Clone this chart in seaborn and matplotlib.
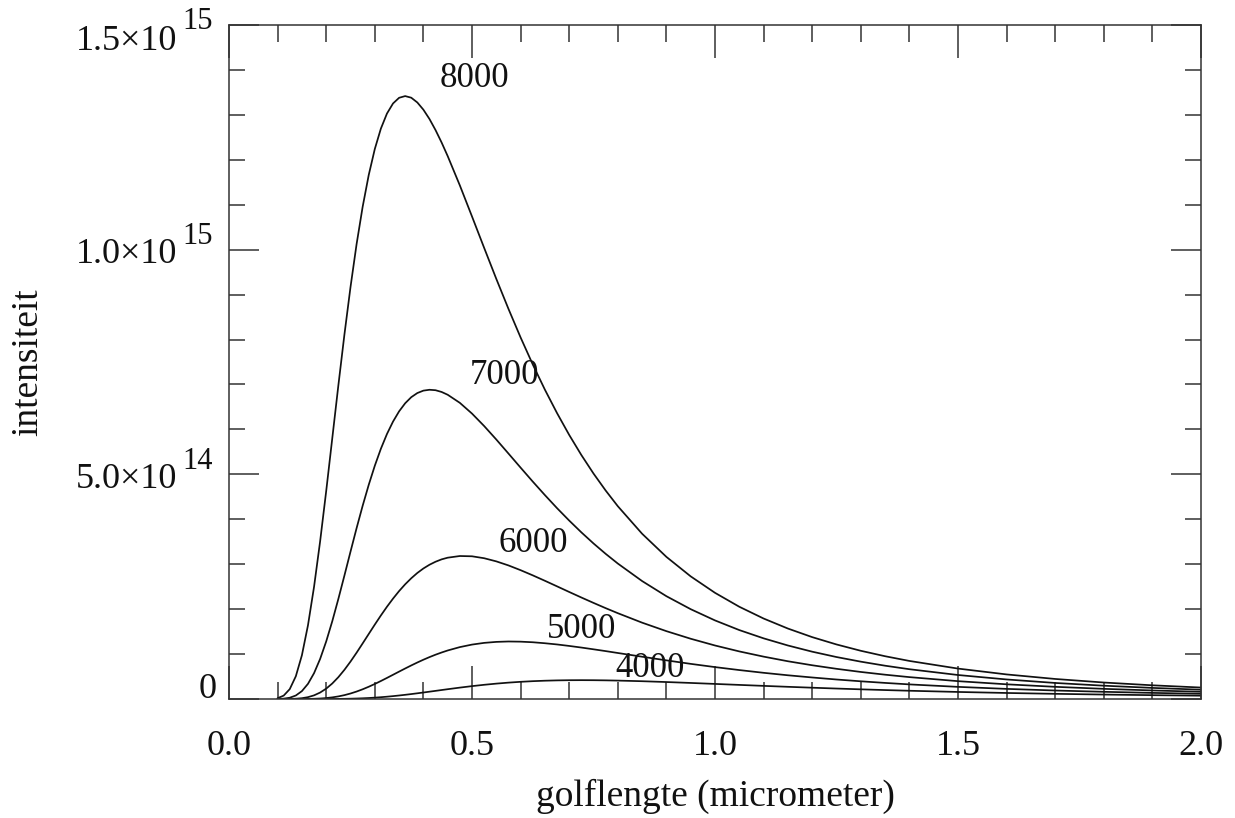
import numpy as np
import pandas as pd
import matplotlib
matplotlib.use("Agg")
import matplotlib.pyplot as plt
import seaborn as sns
from matplotlib.ticker import FixedLocator, MultipleLocator

# Wavelength samples (micrometer)
wavelength = [0.10, 0.1125, 0.125, 0.1375, 0.15, 0.1625, 0.175, 0.1875, 0.20, 0.2125,
              0.225, 0.2375, 0.25, 0.2625, 0.275, 0.2875, 0.30, 0.3125, 0.325, 0.3375,
              0.35, 0.3625, 0.375, 0.3875, 0.40, 0.4125, 0.425, 0.4375, 0.45, 0.475,
              0.50, 0.525, 0.55, 0.575, 0.60, 0.625, 0.65, 0.675, 0.70, 0.725,
              0.75, 0.775, 0.80, 0.85, 0.90, 0.95, 1.00, 1.05, 1.10, 1.15,
              1.20, 1.25, 1.30, 1.35, 1.40, 1.50, 1.60, 1.70, 1.80, 1.90, 2.00]

# Intensity per temperature, in units of 1e14
intensity_8000 = [0.018, 0.0754, 0.220, 0.506, 0.973, 1.641, 2.497, 3.509, 4.628, 5.802,
                  6.978, 8.111, 9.167, 10.121, 10.954, 11.661, 12.240, 12.694, 13.029, 13.254,
                  13.380, 13.418, 13.382, 13.276, 13.115, 12.908, 12.661, 12.384, 12.082, 11.430,
                  10.739, 10.040, 9.350, 8.683, 8.046, 7.446, 6.884, 6.362, 5.877, 5.430,
                  5.018, 4.640, 4.291, 3.678, 3.163, 2.729, 2.363, 2.053, 1.791, 1.568,
                  1.377, 1.214, 1.073, 0.952, 0.847, 0.677, 0.547, 0.446, 0.367, 0.305, 0.255]
intensity_7000 = [0.0014, 0.0077, 0.0282, 0.0780, 0.1755, 0.3375, 0.575, 0.892, 1.281, 1.731,
                  2.227, 2.748, 3.279, 3.801, 4.300, 4.766, 5.191, 5.569, 5.897, 6.174,
                  6.402, 6.582, 6.717, 6.809, 6.863, 6.882, 6.872, 6.833, 6.771, 6.591,
                  6.352, 6.075, 5.775, 5.463, 5.149, 4.839, 4.538, 4.247, 3.971, 3.709,
                  3.462, 3.231, 3.015, 2.625, 2.288, 1.999, 1.749, 1.534, 1.350, 1.191,
                  1.053, 0.934, 0.831, 0.741, 0.663, 0.534, 0.435, 0.357, 0.296, 0.247, 0.207]
intensity_6000 = [0.0, 0.0004, 0.0018, 0.0065, 0.0179, 0.0410, 0.0812, 0.1435, 0.2310, 0.3453,
                  0.4856, 0.6496, 0.8327, 1.030, 1.237, 1.447, 1.656, 1.859, 2.053, 2.234,
                  2.402, 2.553, 2.687, 2.805, 2.905, 2.988, 3.055, 3.108, 3.145, 3.182,
                  3.176, 3.133, 3.063, 2.973, 2.867, 2.752, 2.631, 2.507, 2.382, 2.259,
                  2.139, 2.022, 1.910, 1.699, 1.510, 1.341, 1.191, 1.059, 0.943, 0.840,
                  0.751, 0.672, 0.602, 0.541, 0.487, 0.397, 0.327, 0.271, 0.226, 0.190, 0.161]
intensity_5000 = [0.0, 0.0, 0.0, 0.0002, 0.0007, 0.0021, 0.0052, 0.0111, 0.0210, 0.0362,
                  0.0577, 0.0862, 0.1223, 0.1658, 0.2162, 0.2728, 0.3346, 0.4005, 0.4691, 0.5392,
                  0.6096, 0.6792, 0.7471, 0.8123, 0.8743, 0.9323, 0.9862, 1.035, 1.080, 1.155,
                  1.211, 1.249, 1.271, 1.280, 1.276, 1.263, 1.241, 1.214, 1.181, 1.145,
                  1.106, 1.066, 1.024, 0.941, 0.860, 0.782, 0.710, 0.644, 0.583, 0.528,
                  0.479, 0.434, 0.394, 0.358, 0.325, 0.270, 0.225, 0.189, 0.160, 0.136, 0.116]
intensity_4000 = [0.0, 0.0, 0.0, 0.0, 0.0, 0.0, 0.0001, 0.0002, 0.0006, 0.0012,
                  0.0024, 0.0042, 0.0069, 0.0107, 0.0158, 0.0223, 0.0304, 0.0401, 0.0513, 0.0640,
                  0.0781, 0.0933, 0.1097, 0.1268, 0.1446, 0.1629, 0.1813, 0.1998, 0.2180, 0.2535,
                  0.2865, 0.3163, 0.3423, 0.3644, 0.3825, 0.3967, 0.4072, 0.4142, 0.4181, 0.4194,
                  0.4182, 0.4149, 0.4098, 0.3957, 0.3776, 0.3572, 0.3356, 0.3137, 0.2922, 0.2713,
                  0.2515, 0.2327, 0.2151, 0.1988, 0.1837, 0.1568, 0.1341, 0.1150, 0.0989, 0.0853, 0.0738]

temperatures = [8000, 7000, 6000, 5000, 4000]
series = [intensity_8000, intensity_7000, intensity_6000, intensity_5000, intensity_4000]

# Curve label anchors (wavelength, intensity in 1e14)
label_x = [0.505, 0.566, 0.625, 0.726, 0.867]
label_y = [13.80, 7.20, 3.46, 1.55, 0.68]

xtick_values = [0.0, 0.5, 1.0, 1.5, 2.0]
xtick_labels = ["0.0", "0.5", "1.0", "1.5", "2.0"]
ytick_values = [0.0, 5e14, 1e15, 1.5e15]
ytick_mantissa = ["0", "5.0\u00d710", "1.0\u00d710", "1.5\u00d710"]
ytick_exponent = ["", "14", "15", "15"]

UNIT = 1e14

sns.set_theme(style="ticks")
plt.rcParams["font.family"] = ["Liberation Serif", "DejaVu Serif"]

frames = []
for t, vals in zip(temperatures, series):
    frames.append(pd.DataFrame({
        "golflengte": wavelength,
        "intensiteit": np.asarray(vals) * UNIT,
        "T": str(t),
    }))
df = pd.concat(frames, ignore_index=True)

W, H = 1235, 818
fig = plt.figure(figsize=(W / 100, H / 100), dpi=100)
ax = fig.add_axes([229 / W, 1 - 699 / H, (1201 - 229) / W, (699 - 25) / H])

sns.lineplot(data=df, x="golflengte", y="intensiteit", hue="T",
             palette=["#111111"] * len(temperatures), estimator=None,
             legend=False, linewidth=1.25, ax=ax)

ax.set_xlim(0, 2.0)
ax.set_ylim(0, 1.5e15)

ink = "#333333"
for side in ["left", "right", "top", "bottom"]:
    ax.spines[side].set_visible(True)
    ax.spines[side].set_color(ink)
    ax.spines[side].set_linewidth(1.1)

ax.xaxis.set_major_locator(FixedLocator(xtick_values))
ax.xaxis.set_minor_locator(MultipleLocator(0.1))
ax.yaxis.set_major_locator(FixedLocator(ytick_values))
ax.yaxis.set_minor_locator(MultipleLocator(1e14))

ax.set_xticklabels(xtick_labels)
ax.set_yticklabels([])

ax.tick_params(axis="x", which="major", direction="in", length=24, width=1.1,
               top=True, bottom=True, color=ink, labelsize=26, pad=22,
               labelcolor="#111111")
ax.tick_params(axis="x", which="minor", direction="in", length=12, width=1.1,
               top=True, bottom=True, color=ink)
ax.tick_params(axis="y", which="major", direction="in", length=21.5, width=1.1,
               left=True, right=True, color=ink)
ax.tick_params(axis="y", which="minor", direction="in", length=11.5, width=1.1,
               left=True, right=True, color=ink)

# y tick labels with raised exponents
main_dy = [6.5, -3.6, -3.6, -11.9]
sup_dy = [0.0, 9.4, 9.4, 2.5]
for v, m, e, mdy, sdy in zip(ytick_values, ytick_mantissa, ytick_exponent, main_dy, sup_dy):
    mdx = -37.4 if e else -8.6
    ax.annotate(m, xy=(0, v), xycoords=("axes fraction", "data"),
                xytext=(mdx, mdy), textcoords="offset points",
                ha="right", va="center", fontsize=26, color="#111111",
                annotation_clip=False)
    if e:
        ax.annotate(e, xy=(0, v), xycoords=("axes fraction", "data"),
                    xytext=(-11.5, sdy), textcoords="offset points",
                    ha="right", va="center", fontsize=22, color="#111111",
                    annotation_clip=False)

# temperature labels next to each curve
for t, lx, ly in zip(temperatures, label_x, label_y):
    ax.text(lx, ly * UNIT, str(t), ha="center", va="center",
            fontsize=25, color="#111111")

ax.set_xlabel("golflengte (micrometer)", fontsize=27, color="#111111")
ax.set_ylabel("intensiteit", fontsize=27, color="#111111")
ax.xaxis.set_label_coords(0.5, -0.119)
ax.yaxis.set_label_coords(-0.189, 0.5)

fig.savefig("out.png", dpi=100, facecolor="white")
